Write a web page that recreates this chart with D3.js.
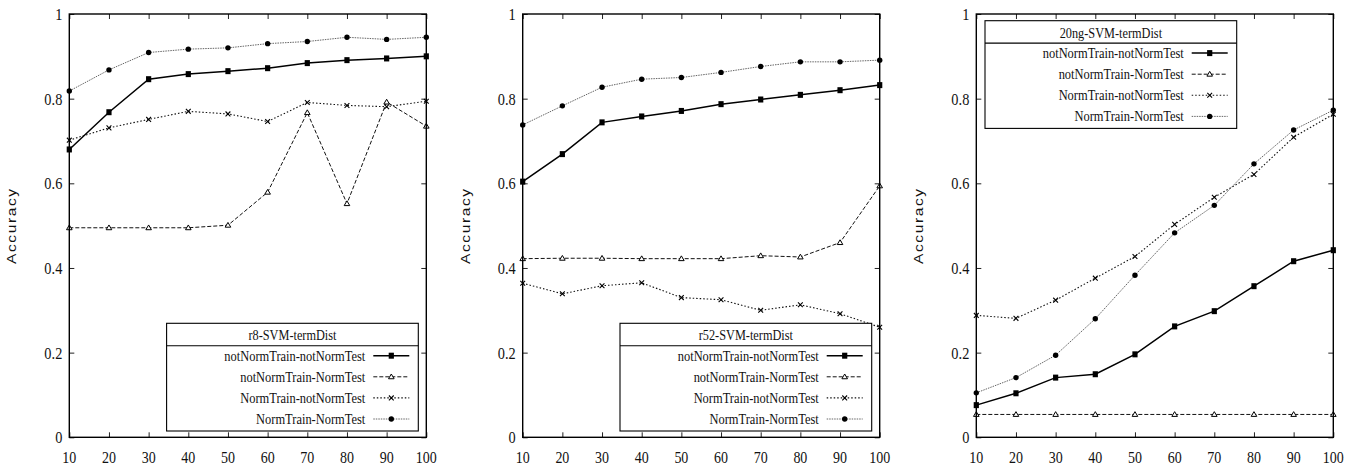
<!DOCTYPE html>
<html><head><meta charset="utf-8"/>
<title>SVM termDist accuracy</title>
<script src="https://d3js.org/d3.v7.min.js"></script>
<style>
  body { margin: 0; padding: 0; background: #fff; width: 1356px; height: 468px; overflow: hidden; }
</style>
</head>
<body>
<svg id="chart" width="1356" height="468"></svg>
<script>
  // data
  const xValues = [10, 20, 30, 40, 50, 60, 70, 80, 90, 100];
  const yTicks = [0, 0.2, 0.4, 0.6, 0.8, 1];
  const seriesNames = ["notNormTrain-notNormTest", "notNormTrain-NormTest", "NormTrain-notNormTest", "NormTrain-NormTest"];
  const panelTitles = ["r8-SVM-termDist", "r52-SVM-termDist", "20ng-SVM-termDist"];

  const r8NotNormNotNorm = [0.680, 0.768, 0.846, 0.858, 0.865, 0.872, 0.884, 0.891, 0.895, 0.900];
  const r8NotNormNorm    = [0.495, 0.495, 0.495, 0.495, 0.501, 0.579, 0.767, 0.552, 0.792, 0.735];
  const r8NormNotNorm    = [0.702, 0.731, 0.751, 0.770, 0.764, 0.746, 0.791, 0.784, 0.781, 0.794];
  const r8NormNorm       = [0.818, 0.868, 0.909, 0.917, 0.920, 0.930, 0.935, 0.945, 0.940, 0.945];

  const r52NotNormNotNorm = [0.604, 0.669, 0.744, 0.758, 0.771, 0.787, 0.798, 0.809, 0.820, 0.832];
  const r52NotNormNorm    = [0.422, 0.423, 0.423, 0.422, 0.422, 0.422, 0.429, 0.426, 0.460, 0.594];
  const r52NormNotNorm    = [0.364, 0.339, 0.358, 0.365, 0.330, 0.325, 0.300, 0.313, 0.292, 0.260];
  const r52NormNorm       = [0.738, 0.783, 0.827, 0.846, 0.850, 0.862, 0.876, 0.887, 0.887, 0.891];

  const ngNotNormNotNorm = [0.076, 0.104, 0.141, 0.149, 0.196, 0.262, 0.298, 0.357, 0.416, 0.442];
  const ngNotNormNorm    = [0.054, 0.054, 0.054, 0.054, 0.054, 0.054, 0.054, 0.054, 0.054, 0.054];
  const ngNormNotNorm    = [0.288, 0.281, 0.324, 0.376, 0.427, 0.503, 0.567, 0.621, 0.709, 0.763];
  const ngNormNorm       = [0.105, 0.141, 0.194, 0.280, 0.383, 0.483, 0.548, 0.646, 0.726, 0.773];

  const panelSeries = [
    [r8NotNormNotNorm, r8NotNormNorm, r8NormNotNorm, r8NormNorm],
    [r52NotNormNotNorm, r52NotNormNorm, r52NormNotNorm, r52NormNorm],
    [ngNotNormNotNorm, ngNotNormNorm, ngNormNotNorm, ngNormNorm]
  ];

  // layout
  const panelLeft = [69.3, 522.7, 976.3];
  const plotW = 357, plotTop = 14, plotBottom = 437.3;
  const legendPos = ["bottomRight", "bottomRight", "topLeft"];
  const lineStyles = [
    { dash: null, width: 1.5, color: "#000" },
    { dash: "4,2", width: 1, color: "#111" },
    { dash: "1.5,2", width: 1.1, color: "#111" },
    { dash: "1.5,1", width: 0.9, color: "#555" }
  ];
  const SERIF = "Liberation Serif";
  const SANS = "Liberation Sans";

  const svg = d3.select("#chart");

  // text squeezed horizontally, like the original's narrow Times
  function squeezed(parent, x, y, str, size, sx, anchor) {
    const g = parent.append("g").attr("transform", `translate(${x},${y}) scale(${sx},1)`);
    g.append("text").style("font-family", SERIF).style("font-size", size + "px")
      .attr("fill", "#111").attr("text-anchor", anchor).text(str);
    return g;
  }

  function marker(g, kind, cx, cy) {
    if (kind === 0) {
      g.append("rect").attr("x", cx - 2.6).attr("y", cy - 3).attr("width", 5.2).attr("height", 6).attr("fill", "#000");
    } else if (kind === 1) {
      const s = 2.8;
      g.append("path").attr("d", `M${cx},${cy - s}L${cx + s},${cy + s * 0.7}L${cx - s},${cy + s * 0.7}Z`)
        .attr("fill", "#fff").attr("stroke", "#000").attr("stroke-width", 1);
    } else if (kind === 2) {
      const s = 2.4;
      g.append("path").attr("d", `M${cx - s},${cy - s}L${cx + s},${cy + s}M${cx - s},${cy + s}L${cx + s},${cy - s}`)
        .attr("stroke", "#000").attr("stroke-width", 1.1);
    } else {
      g.append("circle").attr("cx", cx).attr("cy", cy).attr("r", 2.7).attr("fill", "#000");
    }
  }

  panelSeries.forEach((series, p) => {
    const x0 = panelLeft[p], x1 = x0 + plotW;
    const x = d3.scaleLinear().domain([10, 100]).range([x0, x1]);
    const y = d3.scaleLinear().domain([0, 1]).range([plotBottom, plotTop]);
    const g = svg.append("g");

    // inward ticks, mirrored on top/right
    const bottom = g.append("g").attr("transform", `translate(0,${plotBottom})`)
      .call(d3.axisBottom(x).tickValues(xValues).tickSize(-5).tickFormat(""));
    const top = g.append("g").attr("transform", `translate(0,${plotTop})`)
      .call(d3.axisTop(x).tickValues(xValues).tickSize(-5).tickFormat(""));
    const left = g.append("g").attr("transform", `translate(${x0},0)`)
      .call(d3.axisLeft(y).tickValues(yTicks).tickSize(-5).tickFormat(""));
    const right = g.append("g").attr("transform", `translate(${x1},0)`)
      .call(d3.axisRight(y).tickValues(yTicks).tickSize(-5).tickFormat(""));
    [bottom, top, left, right].forEach(a => {
      a.select(".domain").remove();
      a.selectAll("line").attr("stroke", "#222").attr("stroke-width", 1);
    });

    xValues.forEach(v => squeezed(g, x(v), 463, String(v), 17.5, 0.8, "middle"));
    yTicks.forEach(v => squeezed(g, x0 - 7, y(v) + 6, d3.format("")(v), 17.5, 0.82, "end"));

    // y title
    g.append("text")
      .attr("transform", `translate(${x0 - 53},${(plotTop + plotBottom) / 2}) rotate(-90) scale(1.3,1)`)
      .style("font-family", SANS).style("font-size", "12px").attr("fill", "#111")
      .attr("text-anchor", "middle").attr("letter-spacing", 1.2).text("Accuracy");

    // series
    series.forEach((vals, s) => {
      const st = lineStyles[s];
      const line = d3.line().x((d, i) => x(xValues[i])).y(d => y(d));
      g.append("path").datum(vals).attr("d", line).attr("fill", "none")
        .attr("stroke", st.color).attr("stroke-width", st.width)
        .attr("stroke-dasharray", st.dash);
      vals.forEach((v, i) => marker(g, s, x(xValues[i]), y(v)));
    });

    // frame
    g.append("rect").attr("x", x0).attr("y", plotTop).attr("width", plotW).attr("height", plotBottom - plotTop)
      .attr("fill", "none").attr("stroke", "#000").attr("stroke-width", 1.4);

    // legend
    const lw = 251.7, lh = 107.7;
    const lx = legendPos[p] === "topLeft" ? x0 + 8.7 : x1 - 8 - lw;
    const ly = legendPos[p] === "topLeft" ? plotTop + 6.7 : plotBottom - 6.3 - lh;
    const lg = g.append("g");
    lg.append("rect").attr("x", lx).attr("y", ly).attr("width", lw).attr("height", lh)
      .attr("fill", "#fff").attr("stroke", "#000").attr("stroke-width", 1.1);
    lg.append("line").attr("x1", lx).attr("x2", lx + lw).attr("y1", ly + 22.4).attr("y2", ly + 22.4)
      .attr("stroke", "#000").attr("stroke-width", 1.1);
    squeezed(lg, lx + lw / 2, ly + 17, panelTitles[p], 15, 0.82, "middle");
    seriesNames.forEach((name, s) => {
      const by = ly + 37.4 + s * 21.1;
      const cy = by - 5;
      const rx = lx + lw;
      squeezed(lg, rx - 53, by, name, 15, 0.83, "end");
      const st = lineStyles[s];
      lg.append("line").attr("x1", rx - 45).attr("x2", rx - 9).attr("y1", cy).attr("y2", cy)
        .attr("stroke", st.color).attr("stroke-width", st.width).attr("stroke-dasharray", st.dash);
      marker(lg, s, rx - 27, cy);
    });
  });
</script>
</body></html>
